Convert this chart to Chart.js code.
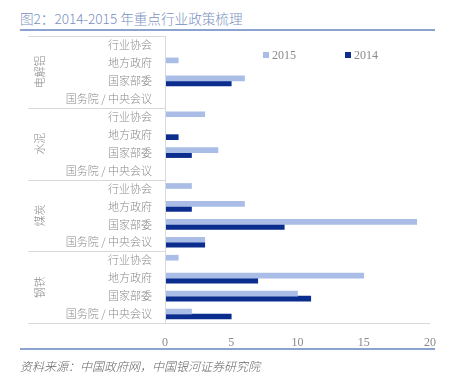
<!DOCTYPE html>
<html>
<head>
<meta charset="utf-8">
<script src="https://cdn.jsdelivr.net/npm/chart.js@4.4.1/dist/chart.umd.min.js"></script>
<style>
  body { margin: 0; background: #fff; }
  #wrap { position: relative; width: 452px; height: 381px; }
  #title { position: absolute; left: 20px; top: 8px; font: 300 13.6px "Noto Sans CJK SC", sans-serif; color: #7890c0; white-space: nowrap; }
  #tline { position: absolute; left: 20px; top: 29px; width: 415px; height: 2px; background: #8da3cf; }
  #bline { position: absolute; left: 20px; top: 348px; width: 415px; height: 2px; background: #8da3cf; }
  #source { position: absolute; left: 20px; top: 357px; font: italic 300 12px "Noto Sans CJK SC", sans-serif; color: #666; white-space: nowrap; }
  canvas { position: absolute; left: 0; top: 0; }
</style>
</head>
<body>
<div id="wrap">
  <div id="title">图2：2014-2015 年重点行业政策梳理</div>
  <div id="tline"></div>
  <canvas id="myBarChart" width="452" height="381"></canvas>
  <div id="bline"></div>
  <div id="source">资料来源：中国政府网，中国银河证券研究院</div>
</div>
<script>
// industries (groups) and policy sources inside each group
var groups = ["电解铝", "水泥", "煤炭", "钢铁"];
var sources = ["行业协会", "地方政府", "国家部委", "国务院 / 中央会议"];

// counts per group, in the order of sources
var v2015 = [
     0, 1, 6, 0,     // 电解铝
     3, 0, 4, 0,     // 水泥
     2, 6, 19, 3,    // 煤炭
     1, 15, 10, 2    // 钢铁
];
var v2014 = [
     0, 0, 5, 0,
     0, 1, 2, 0,
     0, 2, 9, 3,
     0, 7, 11, 5
];
var xTicks = [0, 5, 10, 15, 20];

var labels = [];
groups.forEach(function (g) {
     sources.forEach(function (s) { labels.push(s); });
});

var gridColor = "#d9d9d9";
var textColor = "#8a8a8a";

// group labels, separators and legend drawn on top of the chart area
var groupPlugin = {
     id: 'groupPlugin',
     afterDraw: function (chart) {
          var ctx = chart.ctx;
          var y = chart.scales.y;
          var area = chart.chartArea;
          var left = 28;
          var per = sources.length;
          ctx.save();
          ctx.strokeStyle = gridColor;
          ctx.lineWidth = 1;
          // top line
          ctx.beginPath();
          ctx.moveTo(left, area.top + 0.5);
          ctx.lineTo(area.left, area.top + 0.5);
          ctx.stroke();
          // bottom line
          ctx.beginPath();
          ctx.moveTo(left, area.bottom + 0.5);
          ctx.lineTo(area.right, area.bottom + 0.5);
          ctx.stroke();
          // vertical axis line
          ctx.beginPath();
          ctx.moveTo(area.left + 0.5, area.top);
          ctx.lineTo(area.left + 0.5, area.bottom);
          ctx.stroke();
          // separators between groups
          for (var i = 1; i < groups.length; i++) {
               var yy = Math.round((y.getPixelForValue(i * per - 1) + y.getPixelForValue(i * per)) / 2) + 0.5;
               ctx.beginPath();
               ctx.moveTo(left, yy);
               ctx.lineTo(area.left, yy);
               ctx.stroke();
          }
          // group names, rotated
          ctx.fillStyle = textColor;
          ctx.font = '300 11px "Noto Sans CJK SC", sans-serif';
          ctx.textAlign = 'center';
          ctx.textBaseline = 'middle';
          groups.forEach(function (g, gi) {
               var cy = (y.getPixelForValue(gi * per) + y.getPixelForValue(gi * per + per - 1)) / 2;
               ctx.save();
               ctx.translate(40, cy);
               ctx.rotate(-Math.PI / 2);
               ctx.fillText(g, 0, 0);
               ctx.restore();
          });
          // legend
          ctx.textAlign = 'left';
          ctx.font = '12px "Liberation Serif", serif';
          var lx = [263, 345];
          chart.data.datasets.forEach(function (ds, di) {
               ctx.fillStyle = ds.backgroundColor;
               ctx.fillRect(lx[di], 52, 6, 6);
               ctx.fillStyle = textColor;
               ctx.fillText(ds.label, lx[di] + 9, 55.5);
          });
          ctx.restore();
     }
};

var ctxB = document.getElementById('myBarChart').getContext('2d');
var myBarChart = new Chart(ctxB, {
     type: 'bar',
     data: {
          labels: labels,
          datasets: [{
               label: '2015',
               data: v2015,
               backgroundColor: "#a9bde6",
               barThickness: 5
          }, {
               label: '2014',
               data: v2014,
               backgroundColor: "#0b2d8e",
               barThickness: 5
          }]
     },
     options: {
          indexAxis: 'y',
          responsive: false,
          animation: false,
          layout: { padding: { top: 36, right: 22, left: 0, bottom: 0 } },
          scales: {
               y: {
                    afterFit: function (scale) { scale.width = 165; },
                    grid: { display: false, drawTicks: false },
                    border: { display: false },
                    ticks: {
                         color: textColor,
                         padding: 13,
                         autoSkip: false,
                         font: { family: '"Noto Sans CJK SC", sans-serif', size: 11, weight: 300 }
                    }
               },
               x: {
                    min: 0,
                    max: 20,
                    afterFit: function (scale) { scale.height = 58; },
                    afterBuildTicks: function (scale) {
                         scale.ticks = xTicks.map(function (t) { return { value: t }; });
                    },
                    grid: { display: false, drawTicks: false },
                    border: { display: false },
                    ticks: {
                         color: textColor,
                         padding: 13,
                         font: { family: '"Liberation Serif", serif', size: 12 }
                    }
               }
          },
          plugins: {
               legend: { display: false },
               tooltip: { enabled: false }
          }
     },
     plugins: [groupPlugin]
});
</script>
</body>
</html>
